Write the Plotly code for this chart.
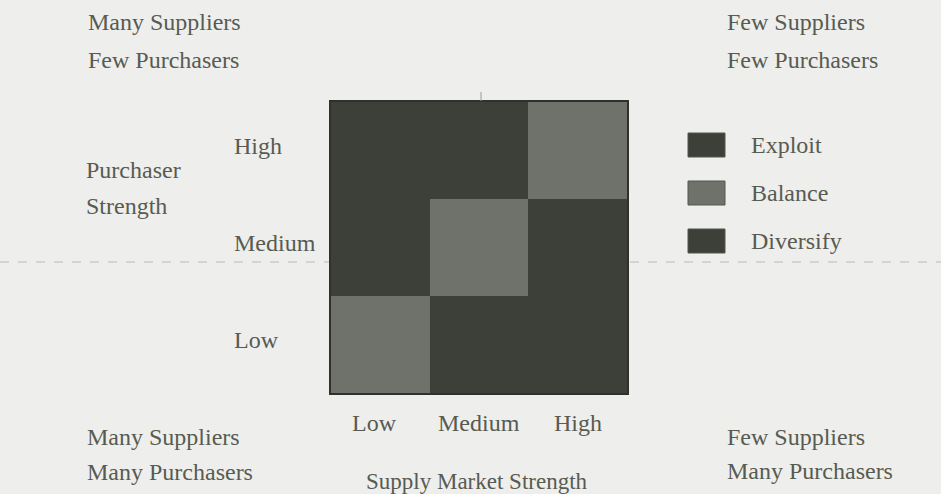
import plotly.graph_objects as go

# ---- data ----
supply_levels = ["Low", "Medium", "High"]          # x categories
purchaser_levels = ["Low", "Medium", "High"]       # y categories (bottom -> top)
strategies = ["Exploit", "Balance", "Diversify"]
strategy_colors = ["#3d4038", "#6f726b", "#3d4038"]
# strategy index per cell, rows = purchaser level (Low, Medium, High), cols = supply level
strategy_grid = [
    [1, 2, 2],   # Low purchaser strength
    [0, 1, 2],   # Medium
    [0, 0, 1],   # High
]
corner_labels = [
    ("Many Suppliers", "Few Purchasers", "tl"),
    ("Few Suppliers", "Few Purchasers", "tr"),
    ("Many Suppliers", "Many Purchasers", "bl"),
    ("Few Suppliers", "Many Purchasers", "br"),
]
y_title = ["Purchaser", "Strength"]
x_title = "Supply Market Strength"

# ---- layout geometry (pixels) ----
W, H = 941, 494
L, R, T, B = 331, 627, 102, 393
FONT = "Liberation Serif"
TXT = "#575b52"
BG = "#eeeeec"
FS = 24


def px(x):
    return (x - L) / (R - L)


def py(y):
    return (B - y) / (B - T)


colorscale = [[0.0, strategy_colors[0]], [0.25, strategy_colors[0]],
              [0.25, strategy_colors[1]], [0.75, strategy_colors[1]],
              [0.75, strategy_colors[2]], [1.0, strategy_colors[2]]]

fig = go.Figure(go.Heatmap(
    x=supply_levels, y=purchaser_levels, z=strategy_grid,
    zmin=0, zmax=2, colorscale=colorscale, showscale=False,
    hoverinfo="skip",
))

annotations = []
shapes = []


def txt_font(size=FS):
    return dict(family=FONT, size=size, color=TXT)


# y-axis category labels (left aligned)
for lvl in purchaser_levels:
    annotations.append(dict(x=px(232), xref="paper", y=lvl, yref="y", text=lvl,
                            xanchor="left", yanchor="middle", yshift=5,
                            showarrow=False, font=txt_font()))
# x-axis category labels
for lvl in supply_levels:
    annotations.append(dict(x=lvl, xref="x", y=py(423), yref="paper", text=lvl,
                            xanchor="center", yanchor="middle", xshift=-6 if lvl == "Low" else 0,
                            showarrow=False, font=txt_font()))

# corner labels
pos = {"tl": (86, 22, 60), "tr": (725, 22, 60), "bl": (85, 437, 472), "br": (725, 437, 471)}
for a, b, k in corner_labels:
    x0, y1, y2 = pos[k]
    for t, yy in ((a, y1), (b, y2)):
        annotations.append(dict(x=px(x0), xref="paper", y=py(yy), yref="paper", text=t,
                                xanchor="left", yanchor="middle", showarrow=False,
                                font=txt_font()))

# axis titles
for t, yy in zip(y_title, (170, 206)):
    annotations.append(dict(x=px(84), xref="paper", y=py(yy), yref="paper", text=t,
                            xanchor="left", yanchor="middle", showarrow=False,
                            font=txt_font()))
annotations.append(dict(x=px(477), xref="paper", y=py(481), yref="paper", text=x_title,
                        xanchor="center", yanchor="middle", showarrow=False,
                        font=txt_font(23)))

# legend
for i, (name, col) in enumerate(zip(strategies, strategy_colors)):
    yc = 145 + 48 * i
    shapes.append(dict(type="rect", xref="paper", yref="paper",
                       x0=px(688), x1=px(725), y0=py(yc + 12), y1=py(yc - 12),
                       fillcolor=col, line=dict(color="#55574f", width=1), layer="above"))
    annotations.append(dict(x=px(749), xref="paper", y=py(yc), yref="paper", text=name,
                            xanchor="left", yanchor="middle", showarrow=False,
                            font=txt_font()))

# dashed horizontal guide line (behind the matrix)
shapes.append(dict(type="line", xref="paper", yref="paper", x0=px(0), x1=px(W),
                   y0=py(262), y1=py(262), line=dict(color="#b9bab6", width=1.2, dash="dash"),
                   layer="below"))
# small tick marks
shapes.append(dict(type="line", xref="paper", yref="paper", x0=px(481), x1=px(481),
                   y0=py(92), y1=py(101), line=dict(color="#9a9b96", width=1)))

fig.update_layout(
    width=W, height=H,
    margin=dict(l=L, r=W - R, t=T, b=H - B, pad=0),
    paper_bgcolor=BG, plot_bgcolor=BG,
    xaxis=dict(showticklabels=False, ticks="", showgrid=False, zeroline=False,
               showline=True, linecolor="#2f312b", linewidth=1.5, mirror=True),
    yaxis=dict(showticklabels=False, ticks="", showgrid=False, zeroline=False,
               showline=True, linecolor="#2f312b", linewidth=1.5, mirror=True),
    annotations=annotations, shapes=shapes, showlegend=False,
)

fig.write_html("out.html", config={"displayModeBar": False},
               post_script="document.body.style.margin='0';document.body.style.overflow='hidden';")
